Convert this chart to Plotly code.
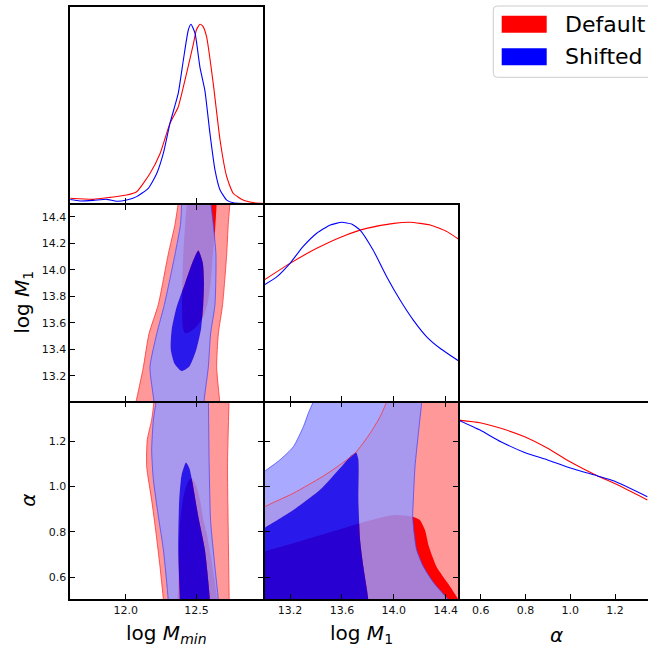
import plotly.graph_objects as go

# ---------------- 1D marginal posteriors (peak-normalised) ----------------
mmin_x_default = [11.60, 11.77, 11.89, 12.006, 12.077, 12.171, 12.242, 12.313, 12.371, 12.431,
                  12.478, 12.50, 12.525, 12.545, 12.572, 12.619, 12.667, 12.714, 12.76, 12.83, 12.90, 12.98]
mmin_p_default = [0.032, 0.026, 0.037, 0.05, 0.068, 0.17, 0.28, 0.45, 0.54, 0.73,
                  0.89, 0.97, 1.0, 0.99, 0.93, 0.67, 0.356, 0.152, 0.06, 0.022, 0.008, 0.003]
mmin_x_shifted = [11.60, 11.676, 11.77, 11.865, 11.935, 12.006, 12.077, 12.159, 12.219, 12.265,
                  12.313, 12.371, 12.407, 12.442, 12.461, 12.49, 12.525, 12.56, 12.596, 12.631,
                  12.667, 12.714, 12.76, 12.98]
mmin_p_shifted = [0.026, 0.017, 0.02, 0.026, 0.015, 0.022, 0.041, 0.087, 0.17, 0.28,
                  0.45, 0.615, 0.80, 0.967, 1.0, 0.95, 0.76, 0.63, 0.39, 0.19,
                  0.078, 0.022, 0.007, 0.0]

m1_x_default = [13.0, 13.2, 13.406, 13.6, 13.79, 14.0, 14.125, 14.28, 14.41, 14.5]
m1_p_default = [0.678, 0.771, 0.855, 0.92, 0.966, 0.994, 1.0, 0.985, 0.948, 0.905]
m1_x_shifted = [13.0, 13.1, 13.2, 13.30, 13.406, 13.51, 13.60, 13.675, 13.74, 13.84,
                13.945, 14.048, 14.15, 14.253, 14.356, 14.5]
m1_p_shifted = [0.65, 0.697, 0.771, 0.864, 0.939, 0.985, 1.0, 0.99, 0.957, 0.846,
                0.697, 0.567, 0.455, 0.362, 0.298, 0.227]

alpha_x_default = [0.5, 0.597, 0.69, 0.796, 0.899, 0.997, 1.122, 1.196, 1.344]
alpha_p_default = [1.0, 0.985, 0.954, 0.907, 0.843, 0.769, 0.689, 0.648, 0.556]
alpha_x_shifted = [0.5, 0.597, 0.69, 0.796, 0.899, 0.997, 1.122, 1.196, 1.344]
alpha_p_shifted = [1.0, 0.944, 0.879, 0.82, 0.778, 0.735, 0.689, 0.661, 0.574]

# ---------------- 2D credible regions (68% / 95%) ----------------
# log M_min vs log M_1
mm_default95_x = [12.05, 12.072, 12.124, 12.164, 12.23, 12.30, 12.348, 12.371, 12.385,
                  12.745, 12.737, 12.725, 12.714, 12.685, 12.655, 12.643, 12.665, 12.67]
mm_default95_y = [12.9, 13.0, 13.264, 13.516, 13.737, 14.115, 14.341, 14.5, 14.6,
                  14.6, 14.5, 14.341, 14.115, 13.737, 13.516, 13.264, 13.0, 12.9]
mm_default68_x = [12.43, 12.431, 12.42, 12.407, 12.40, 12.398, 12.405, 12.42, 12.45, 12.50,
                  12.55, 12.58, 12.60, 12.615, 12.632, 12.643, 12.647]
mm_default68_y = [14.6, 14.5, 14.34, 14.115, 13.9, 13.7, 13.56, 13.52, 13.53, 13.57,
                  13.65, 13.75, 13.9, 14.1, 14.3, 14.5, 14.6]
mm_shifted95_x = [12.20, 12.199, 12.171, 12.219, 12.273, 12.348, 12.387, 12.395, 12.40,
                  12.605, 12.603, 12.619, 12.638, 12.631, 12.60, 12.584, 12.553, 12.545]
mm_shifted95_y = [12.8, 13.0, 13.264, 13.516, 13.737, 14.115, 14.341, 14.5, 14.7,
                  14.7, 14.5, 14.341, 14.115, 13.737, 13.516, 13.264, 13.0, 12.8]
mm_shifted68_x = [12.513, 12.545, 12.553, 12.548, 12.532, 12.50, 12.45, 12.395, 12.345,
                  12.318, 12.325, 12.36, 12.42, 12.47]
mm_shifted68_y = [14.145, 14.05, 13.90, 13.74, 13.55, 13.40, 13.27, 13.235, 13.29,
                  13.40, 13.55, 13.72, 13.90, 14.05]

# log M_min vs alpha
ma_default95_x = [12.20, 12.199, 12.183, 12.152, 12.148, 12.183, 12.214, 12.242, 12.266, 12.27,
                  12.735, 12.732, 12.725, 12.72, 12.73, 12.73]
ma_default95_y = [1.45, 1.375, 1.293, 1.205, 1.087, 0.94, 0.794, 0.647, 0.5, 0.45,
                  0.45, 0.5, 0.8, 1.1, 1.375, 1.45]
ma_default68_x = [12.466, 12.50, 12.525, 12.55, 12.572, 12.60, 12.625, 12.647, 12.65,
                  12.37, 12.372, 12.375, 12.385, 12.41, 12.44]
ma_default68_y = [1.036, 1.0, 0.94, 0.85, 0.794, 0.70, 0.60, 0.50, 0.45,
                  0.45, 0.55, 0.70, 0.85, 0.96, 1.02]
ma_shifted95_x = [12.215, 12.214, 12.195, 12.183, 12.195, 12.23, 12.266, 12.30, 12.31,
                  12.67, 12.655, 12.63, 12.60, 12.59, 12.585, 12.585]
ma_shifted95_y = [1.5, 1.375, 1.293, 1.16, 1.03, 0.87, 0.72, 0.5, 0.35,
                  0.35, 0.5, 0.65, 0.85, 1.1, 1.375, 1.5]
ma_shifted68_x = [12.426, 12.45, 12.473, 12.513, 12.56, 12.596, 12.60,
                  12.38, 12.383, 12.371, 12.378, 12.395]
ma_shifted68_y = [1.105, 1.08, 1.014, 0.867, 0.72, 0.5, 0.42,
                  0.42, 0.5, 0.72, 0.94, 1.05]

# log M_1 vs alpha
m1a_default95_x = [12.9, 13.0, 13.226, 13.483, 13.70, 13.817, 13.894, 13.945, 13.98, 14.6, 14.6, 12.9]
m1a_default95_y = [0.86, 0.908, 0.97, 1.055, 1.146, 1.234, 1.307, 1.374, 1.45, 1.45, 0.4, 0.4]
m1a_default68_x = [12.9, 13.0, 13.226, 13.483, 13.74, 14.0, 14.138, 14.2, 14.24, 14.27,
                   14.33, 14.42, 14.50, 14.58, 14.6, 12.9]
m1a_default68_y = [0.69, 0.713, 0.75, 0.794, 0.838, 0.874, 0.867, 0.852, 0.808, 0.735,
                   0.645, 0.57, 0.5, 0.42, 0.4, 0.4]
m1a_shifted95_x = [12.8, 13.0, 13.123, 13.226, 13.303, 13.341, 13.38, 13.41,
                   14.22, 14.215, 14.189, 14.163, 14.15, 14.145, 14.156, 14.176, 14.227,
                   14.31, 14.42, 14.50, 14.57, 12.8]
m1a_shifted95_y = [0.98, 1.065, 1.117, 1.175, 1.263, 1.322, 1.375, 1.45,
                   1.45, 1.375, 1.234, 1.087, 0.94, 0.867, 0.794, 0.72, 0.647,
                   0.573, 0.5, 0.43, 0.35, 0.35]
m1a_shifted68_x = [12.85, 13.0, 13.226, 13.431, 13.585, 13.663, 13.709, 13.727, 13.727,
                   13.74, 13.765, 13.804, 13.81, 12.85]
m1a_shifted68_y = [0.76, 0.816, 0.896, 0.985, 1.08, 1.131, 1.149, 1.117, 0.94,
                   0.764, 0.647, 0.5, 0.38, 0.38]

labels = ["Default", "Shifted"]

# ---------------- styling ----------------
RED95 = "rgb(255,153,153)"
RED68 = "rgb(255,0,0)"
BLUE95 = "rgba(150,152,255,0.83)"
BLUE68 = "rgba(0,0,250,0.84)"
RED_EDGE = "rgba(255,50,50,0.8)"
BLUE_EDGE = "rgba(70,70,255,0.75)"
FONT = "DejaVu Sans"
LW = 1.6

W, H = 648, 650


def signed_area(xs, ys):
    n = len(xs)
    return 0.5 * sum(xs[i - 1] * ys[i] - xs[i] * ys[i - 1] for i in range(n))


def ring_with_hole(ox, oy, ix, iy):
    """Outer ring plus an oppositely wound inner ring, so the inner one is cut out."""
    if (signed_area(ox, oy) > 0) == (signed_area(ix, iy) > 0):
        ix, iy = ix[::-1], iy[::-1]
    xs = list(ox) + [ox[0], None] + list(ix) + [ix[0]]
    ys = list(oy) + [oy[0], None] + list(iy) + [iy[0]]
    return xs, ys


fig = go.Figure()


def fill(xs, ys, color, xa, ya):
    fig.add_trace(go.Scatter(x=list(xs) + [xs[0]], y=list(ys) + [ys[0]], xaxis=xa, yaxis=ya,
                             mode="lines", fill="toself", fillcolor=color,
                             line=dict(width=0, shape="spline", smoothing=0.6),
                             hoverinfo="skip", showlegend=False))


def band(ox, oy, ix, iy, color, xa, ya):
    xs, ys = ring_with_hole(ox, oy, ix, iy)
    fig.add_trace(go.Scatter(x=xs, y=ys, xaxis=xa, yaxis=ya, mode="lines", fill="toself",
                             fillcolor=color, connectgaps=False,
                             line=dict(width=0, shape="spline", smoothing=0.6),
                             hoverinfo="skip", showlegend=False))


def edge(xs, ys, color, xa, ya):
    xs, ys = list(xs) + [xs[0]], list(ys) + [ys[0]]
    fig.add_trace(go.Scatter(x=xs, y=ys, xaxis=xa, yaxis=ya, mode="lines",
                             line=dict(width=1, color=color, shape="spline", smoothing=0.6),
                             hoverinfo="skip", showlegend=False))


def curve(xs, ys, color, xa, ya):
    fig.add_trace(go.Scatter(x=xs, y=ys, xaxis=xa, yaxis=ya, mode="lines",
                             line=dict(width=1.1, color=color, shape="spline", smoothing=0.5),
                             hoverinfo="skip", showlegend=False))


# diagonal: 1D marginals
curve(mmin_x_default, mmin_p_default, "red", "x", "y")
curve(mmin_x_shifted, mmin_p_shifted, "blue", "x", "y")
curve(m1_x_default, m1_p_default, "red", "x3", "y3")
curve(m1_x_shifted, m1_p_shifted, "blue", "x3", "y3")
curve(alpha_x_default, alpha_p_default, "red", "x6", "y6")
curve(alpha_x_shifted, alpha_p_shifted, "blue", "x6", "y6")

# off-diagonal: 2D credible regions
panels = [
    ("x2", "y2", mm_default95_x, mm_default95_y, mm_default68_x, mm_default68_y,
     mm_shifted95_x, mm_shifted95_y, mm_shifted68_x, mm_shifted68_y),
    ("x4", "y4", ma_default95_x, ma_default95_y, ma_default68_x, ma_default68_y,
     ma_shifted95_x, ma_shifted95_y, ma_shifted68_x, ma_shifted68_y),
    ("x5", "y5", m1a_default95_x, m1a_default95_y, m1a_default68_x, m1a_default68_y,
     m1a_shifted95_x, m1a_shifted95_y, m1a_shifted68_x, m1a_shifted68_y),
]
for xa, ya, d95x, d95y, d68x, d68y, s95x, s95y, s68x, s68y in panels:
    fill(d95x, d95y, RED95, xa, ya)
    fill(d68x, d68y, RED68, xa, ya)
    band(s95x, s95y, s68x, s68y, BLUE95, xa, ya)
    fill(s68x, s68y, BLUE68, xa, ya)
    edge(d95x, d95y, RED_EDGE, xa, ya)
    edge(s95x, s95y, BLUE_EDGE, xa, ya)

# ---------------- grid geometry (pixels) ----------------
# frame lines sit on these boundaries; plot areas are inset by half a line width
XB = [69.5, 264.0, 459.0, 648.0]
YB = [6.0, 204.0, 401.7, 600.0]
h = LW / 2
cols_px = [(XB[0] + h, XB[1] - h), (XB[1] + h, XB[2] - h), (XB[2] + h, XB[3])]
rows_px = [(YB[0] + h, YB[1] - h), (YB[1] + h, YB[2] - h), (YB[2] + h, YB[3] - h)]


def xdom(c):
    a, b = cols_px[c]
    return [a / W, b / W]


def ydom(r):
    top, bottom = rows_px[r]
    return [1 - bottom / H, 1 - top / H]


def xrange_px(c, ref_val, ref_px, scale):
    a, b = cols_px[c]
    return [ref_val + (a - ref_px) / scale, ref_val + (b - ref_px) / scale]


def yrange_px(r, ref_val, ref_py, scale):
    top, bottom = rows_px[r]
    return [ref_val - (bottom - ref_py) / scale, ref_val + (ref_py - top) / scale]


r_mmin = xrange_px(0, 12.0, 125.8, 141.3)
r_m1x = xrange_px(1, 13.2, 290.0, 129.8)
r_alpha_x = xrange_px(2, 0.6, 480.7, 224.0)
r_m1y = yrange_px(1, 14.4, 216.7, 132.5)
r_alpha_y = yrange_px(2, 1.2, 441.0, 227.0)
r_pdf1 = yrange_px(0, 0.0, 204.0, 179.7)
r_pdf2 = yrange_px(1, 0.0, 401.7, 179.4)
r_pdf3 = yrange_px(2, 0.0, 600.0, 180.0)

t_mmin = [12.0, 12.5]
t_m1 = [13.2, 13.4, 13.6, 13.8, 14.0, 14.2, 14.4]
t_m1x = [13.2, 13.6, 14.0, 14.4]
t_alpha = [0.6, 0.8, 1.0, 1.2]

tickfont = dict(family=FONT, size=11, color="#111111")


def axis(rng, dom, anchor, tickvals=None, labels=False, mirror="allticks", show_ticks=True):
    d = dict(range=rng, domain=dom, anchor=anchor, showgrid=False, zeroline=False,
             showline=True, linecolor="black", linewidth=LW, mirror=mirror,
             ticks="inside" if show_ticks else "", ticklen=5, tickwidth=1, tickcolor="black",
             showticklabels=labels, tickfont=tickfont, tickformat=".1f",
             fixedrange=True)
    if tickvals is not None:
        d["tickmode"] = "array"
        d["tickvals"] = tickvals
    return d


fig.update_layout(
    xaxis=axis(r_mmin, xdom(0), "y", t_mmin, mirror=True),
    yaxis=axis(r_pdf1, ydom(0), "x", None, mirror=True, show_ticks=False),
    xaxis2=axis(r_mmin, xdom(0), "y2", t_mmin),
    yaxis2=axis(r_m1y, ydom(1), "x2", t_m1, labels=True),
    xaxis3=axis(r_m1x, xdom(1), "y3", t_m1x, mirror=True),
    yaxis3=axis(r_pdf2, ydom(1), "x3", None, mirror=True, show_ticks=False),
    xaxis4=axis(r_mmin, xdom(0), "y4", t_mmin, labels=True),
    yaxis4=axis(r_alpha_y, ydom(2), "x4", t_alpha, labels=True),
    xaxis5=axis(r_m1x, xdom(1), "y5", t_m1x, labels=True),
    yaxis5=axis(r_alpha_y, ydom(2), "x5", t_alpha),
    xaxis6=axis(r_alpha_x, xdom(2), "y6", t_alpha, labels=True, mirror=True),
    yaxis6=axis(r_pdf3, ydom(2), "x6", None, mirror=False, show_ticks=False),
)


def px(x):
    return x / W


def py(y):
    return 1 - y / H


titlefont = dict(family=FONT, size=20, color="black")
annotations = [
    dict(text="log <i>M</i><sub><i>min</i></sub>", x=px(166.5), y=py(634)),
    dict(text="log <i>M</i><sub>1</sub>", x=px(361.5), y=py(634)),
    dict(text="<i>α</i>", x=px(556.5), y=py(635)),
    dict(text="log <i>M</i><sub>1</sub>", x=px(23), y=py(302.8), textangle=-90),
    dict(text="<i>α</i>", x=px(28), y=py(500.8), textangle=-90),
]
for a in annotations:
    a.update(xref="paper", yref="paper", showarrow=False, font=titlefont,
             xanchor="center", yanchor="middle")

# legend drawn as patches and labels
leg_font = dict(family=FONT, size=22, color="black")
legend_colors = ["red", "blue"]
legend_rows = [24.2, 56.7]
shapes = []
x0, x1, y0, y1, r = 493.3, 655, 6, 77.3, 4
box_path = (f"M {px(x0 + r)} {py(y0)} L {px(x1)} {py(y0)} L {px(x1)} {py(y1)} "
            f"L {px(x0 + r)} {py(y1)} Q {px(x0)} {py(y1)} {px(x0)} {py(y1 - r)} "
            f"L {px(x0)} {py(y0 + r)} Q {px(x0)} {py(y0)} {px(x0 + r)} {py(y0)} Z")
shapes.append(dict(type="path", xref="paper", yref="paper", path=box_path,
                   line=dict(color="#cccccc", width=1), fillcolor="rgba(255,255,255,0.85)",
                   layer="above"))
for lab, col, yc in zip(labels, legend_colors, legend_rows):
    shapes.append(dict(type="rect", xref="paper", yref="paper",
                       x0=px(501.7), x1=px(546.7), y0=py(yc - 8.5), y1=py(yc + 8.5),
                       fillcolor=col, line=dict(width=0), layer="above"))
    annotations.append(dict(text=lab, xref="paper", yref="paper", x=px(563), y=py(yc),
                            xanchor="left", yanchor="middle", showarrow=False, font=leg_font))

fig.update_layout(
    width=W, height=H, margin=dict(l=0, r=0, t=0, b=0),
    paper_bgcolor="white", plot_bgcolor="white", template="none",
    showlegend=False, annotations=annotations, shapes=shapes,
    font=dict(family=FONT),
)

fig.write_html("out.html")
